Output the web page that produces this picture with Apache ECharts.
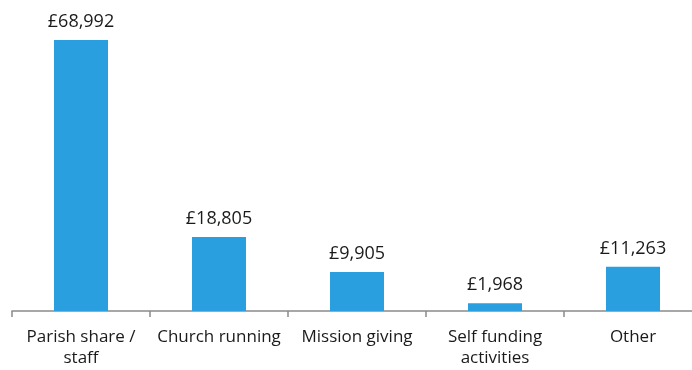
<!DOCTYPE html>
<html>
<head>
<meta charset="utf-8">
<script src="https://cdn.jsdelivr.net/npm/echarts@6/dist/echarts.min.js"></script>
<style>
  html, body { margin: 0; padding: 0; background: #fff; overflow: hidden; }
  /* canvas is a little wider than the page: the axis runs on past the right edge */
  #chart { width: 702px; height: 370px; }
</style>
</head>
<body>
<div id="chart"></div>
<script>
// Spending categories and amounts (£)
const categories = ['Parish share /\nstaff', 'Church running', 'Mission giving', 'Self funding\nactivities', 'Other'];
const amounts = [68992, 18805, 9905, 1968, 11263];

const fontFamily = '"Open Sans", "Noto Sans", sans-serif';

const chart = echarts.init(document.getElementById('chart'), null, { renderer: 'canvas' });
chart.setOption({
  animation: false,
  backgroundColor: '#ffffff',
  grid: { left: 12, right: 0, top: 36, bottom: 59 },
  xAxis: {
    type: 'category',
    data: categories,
    boundaryGap: true,
    axisLine: { show: true, lineStyle: { color: '#8a8a8a', width: 1.5 } },
    axisTick: { show: true, alignWithLabel: false, length: 6, lineStyle: { color: '#8a8a8a', width: 1.5 } },
    axisLabel: {
      interval: 0,
      margin: 16,
      color: '#1a1a1a',
      fontFamily: fontFamily,
      fontSize: 17,
      lineHeight: 21
    }
  },
  yAxis: {
    type: 'value',
    min: 0,
    max: 70000,
    show: false,
    splitLine: { show: false }
  },
  series: [{
    type: 'bar',
    data: amounts,
    barWidth: 54,
    itemStyle: { color: '#2a9fe0' },
    label: {
      show: true,
      position: 'top',
      distance: 9,
      color: '#1a1a1a',
      fontFamily: fontFamily,
      fontSize: 18,
      formatter: p => '£' + p.value.toLocaleString('en-GB')
    }
  }]
});
</script>
</body>
</html>
